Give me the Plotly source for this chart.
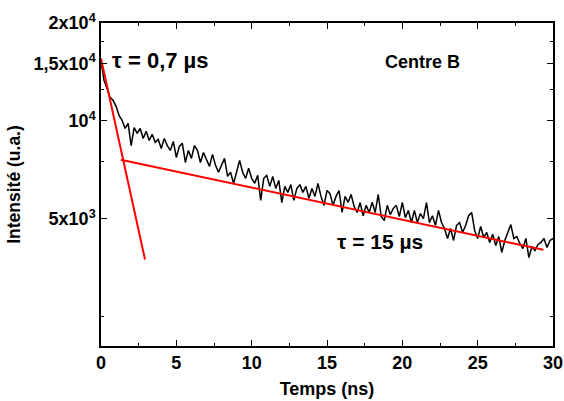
import numpy as np
import plotly.graph_objects as go

# ---- data ----
time_ns = np.round(np.arange(151) * 0.2, 1)  # uniform acquisition grid, 0..30 ns
intensity = [
    15350, 13320, 12580, 11830, 11570, 11090, 10400, 10040, 9480, 9830,
    8400, 9540, 9160, 9480, 8830, 9290, 8710, 9100, 8590, 8770,
    8230, 8830, 8400, 8115, 8650, 7720, 8350, 8530, 7450, 8115,
    7670, 8400, 8115, 7450, 8000, 7560, 7250, 7890, 7300, 6950,
    7300, 7670, 6750, 6950, 6420, 6950, 7560, 6950, 6660, 7150,
    6660, 6430, 6800, 5695, 6660, 6800, 6290, 6750, 6200, 6560,
    5610, 6290, 6030, 6370, 5695, 6200, 6370, 6030, 6290, 5780,
    6200, 5860, 6420, 5860, 5500, 6110, 5980, 5500, 5860, 6110,
    5230, 5860, 5620, 5940, 5460, 5230, 5610, 5110, 5500, 5230,
    5620, 5230, 5940, 5080, 4940, 5500, 5150, 5380, 5500, 5080,
    5620, 5040, 5305, 4870, 5305, 4870, 5190, 5010, 5610, 4870,
    5110, 4770, 5305, 4870, 4670, 4350, 4670, 4290, 4770, 4870,
    4540, 4770, 5110, 5230, 4605, 4350, 4740, 4380, 4540, 4230,
    4480, 4140, 4410, 3940, 4290, 4540, 4800, 4350, 4410, 4200,
    4050, 4350, 3800, 4110, 3995, 4170, 4230, 4350, 4080, 4290,
    4350,
]

fast_fit_t = [0.0, 2.92]
fast_fit_i = [15550, 3750]
slow_fit_t = [1.31, 29.36]
slow_fit_i = [7600, 4015]

y_tickvals = [5000, 10000, 15000, 20000]
y_ticktext = ["5x10<sup>3</sup>", "10<sup>4</sup>", "1,5x10<sup>4</sup>", "2x10<sup>4</sup>"]
y_minorvals = [2500, 7500, 12500, 17500]
x_tickvals = [0, 5, 10, 15, 20, 25, 30]
x_minorvals = [2.5, 7.5, 12.5, 17.5, 22.5, 27.5]

FONT = "Liberation Sans, Arial, Helvetica, sans-serif"

fig = go.Figure()
fig.add_trace(go.Scatter(x=time_ns, y=intensity, mode="lines",
                         line=dict(color="black", width=1.5), showlegend=False))
fig.add_trace(go.Scatter(x=fast_fit_t, y=fast_fit_i, mode="lines",
                         line=dict(color="#ff0000", width=2), showlegend=False))
fig.add_trace(go.Scatter(x=slow_fit_t, y=slow_fit_i, mode="lines",
                         line=dict(color="#ff0000", width=2), showlegend=False))

axis_common = dict(showline=True, linecolor="black", linewidth=1.5, mirror="ticks",
                   ticks="inside", ticklen=6, tickwidth=1.2, tickcolor="black",
                   showgrid=False, zeroline=False, automargin=False,
                   tickfont=dict(family=FONT, size=18, color="black", weight="bold"))

fig.update_xaxes(range=[0, 30], tickvals=x_tickvals,
                 minor=dict(tickvals=x_minorvals, ticks="inside",
                            ticklen=3, tickwidth=1.2, tickcolor="black"),
                 title=dict(text="Temps (ns)", standoff=10,
                            font=dict(family=FONT, size=18, color="black", weight="bold")),
                 **axis_common)
fig.update_yaxes(type="log", range=[np.log10(2032), np.log10(20000)],
                 tickvals=y_tickvals, ticktext=y_ticktext,
                 minor=dict(tickvals=y_minorvals, ticks="inside",
                            ticklen=3, tickwidth=1.2, tickcolor="black"),
                 title=dict(text="Intensité (u.a.)", standoff=8,
                            font=dict(family=FONT, size=17.5, color="black", weight="bold")),
                 **axis_common)

fig.add_annotation(xref="paper", yref="paper", x=0.02, y=0.885, xanchor="left", yanchor="middle",
                   text="τ = 0,7 µs", showarrow=False,
                   font=dict(family=FONT, size=22, color="black", weight="bold"))
fig.add_annotation(xref="paper", yref="paper", x=0.518, y=0.324, xanchor="left", yanchor="middle",
                   text="τ = 15 µs", showarrow=False,
                   font=dict(family=FONT, size=21, color="black", weight="bold"))
fig.add_annotation(xref="paper", yref="paper", x=0.624, y=0.879, xanchor="left", yanchor="middle",
                   text="Centre B", showarrow=False,
                   font=dict(family=FONT, size=18, color="black", weight="bold"))

fig.update_layout(width=564, height=401, margin=dict(l=101, r=11, t=23, b=55),
                  paper_bgcolor="white", plot_bgcolor="white",
                  font=dict(family=FONT, color="black"))

# remove the default 8 px page margin so the 564x401 figure fills the window exactly
fig.write_html("out.html",
               config={"displayModeBar": False},
               post_script="document.body.style.margin='0';document.body.style.overflow='hidden';")
